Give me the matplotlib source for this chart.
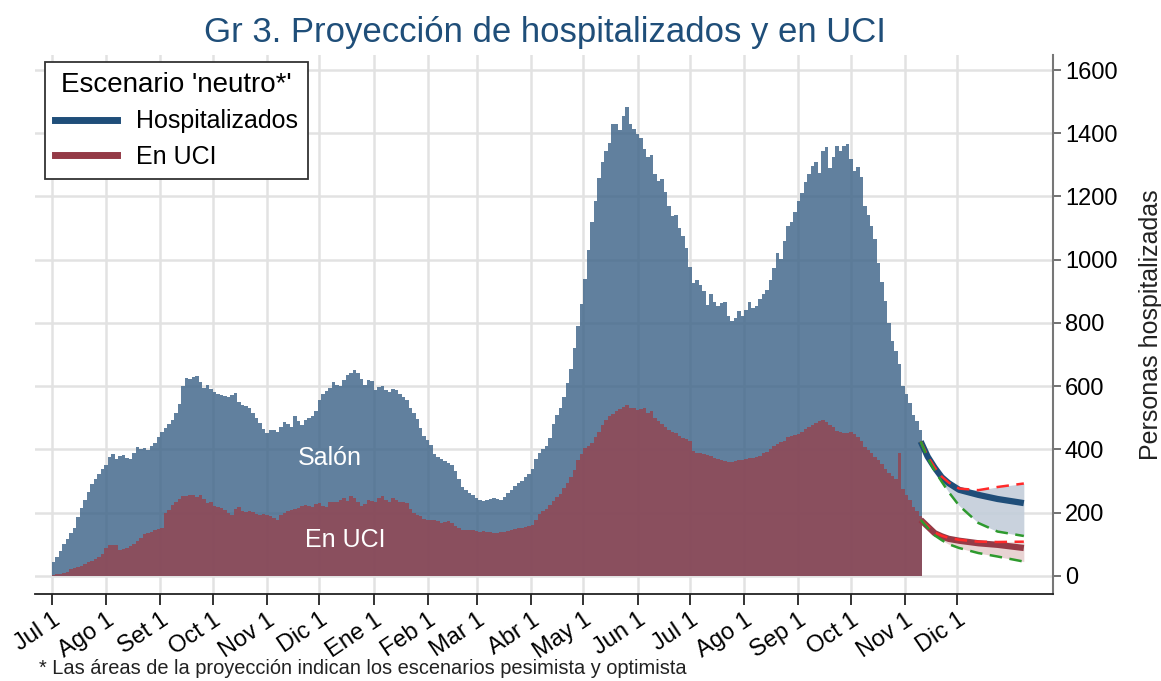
import numpy as np
import pandas as pd
import matplotlib
matplotlib.use('Agg')
import matplotlib.pyplot as plt
from matplotlib.lines import Line2D

plt.rcParams['font.family'] = ['Liberation Sans', 'DejaVu Sans']

# ---------------- data ----------------
start = pd.Timestamp('2020-07-01')
step_days = 2  # one value every two days, starting Jul 1 2020

hosp = [45, 60, 78, 100, 118, 135, 150, 185, 215, 240,
        265, 290, 305, 322, 338, 352, 375, 385, 368, 378,
        383, 372, 368, 390, 408, 400, 404, 398, 410, 420,
        440, 456, 468, 480, 493, 515, 545, 600, 625, 622,
        630, 632, 614, 595, 604, 592, 583, 575, 572, 568,
        567, 572, 578, 550, 541, 538, 530, 515, 500, 482,
        465, 451, 460, 462, 456, 470, 488, 480, 472, 505,
        490, 477, 492, 500, 506, 520, 555, 575, 585, 595,
        612, 605, 600, 618, 636, 640, 651, 640, 622, 605,
        620, 615, 588, 598, 602, 588, 583, 590, 588, 575,
        565, 557, 530, 515, 495, 468, 442, 430, 414, 385,
        375, 368, 362, 358, 352, 330, 305, 280, 270, 262,
        255, 245, 240, 238, 240, 242, 246, 244, 240, 250,
        262, 270, 285, 294, 300, 312, 322, 338, 370, 388,
        400, 412, 435, 480, 510, 532, 565, 610, 655, 720,
        790, 860, 940, 1030, 1120, 1185, 1260, 1310, 1345, 1368,
        1430, 1428, 1410, 1455, 1484, 1430, 1415, 1398, 1385, 1350,
        1325, 1331, 1270, 1250, 1255, 1215, 1170, 1138, 1142, 1100,
        1075, 1036, 978, 925, 936, 920, 900, 858, 890, 865,
        852, 862, 865, 822, 805, 815, 838, 822, 840, 865,
        848, 855, 875, 890, 904, 935, 975, 1020, 1002, 1060,
        1105, 1120, 1150, 1185, 1210, 1245, 1270, 1295, 1310, 1275,
        1345, 1358, 1290, 1326, 1360, 1345, 1360, 1365, 1320, 1280,
        1294, 1263, 1170, 1140, 1105, 1065, 990, 930, 870, 800,
        742, 710, 670, 600, 575, 548, 510, 490, 460]

uci = [3, 5, 7, 9, 12, 20, 25, 28, 31, 38,
       44, 48, 53, 58, 70, 88, 98, 96, 98, 82,
       85, 88, 95, 102, 110, 120, 132, 136, 140, 145,
       148, 152, 200, 208, 225, 232, 242, 251, 252, 255,
       256, 250, 256, 242, 230, 232, 222, 219, 214, 209,
       200, 193, 210, 219, 205, 203, 205, 203, 195, 193,
       195, 192, 188, 182, 177, 192, 198, 204, 209, 212,
       214, 220, 224, 220, 219, 228, 230, 220, 219, 233,
       235, 232, 240, 246, 238, 251, 245, 235, 222, 228,
       240, 238, 235, 245, 251, 240, 235, 246, 240, 235,
       232, 230, 210, 198, 192, 188, 180, 177, 178, 177,
       172, 167, 170, 172, 168, 156, 150, 145, 146, 145,
       145, 142, 140, 141, 140, 138, 136, 135, 138, 140,
       143, 145, 148, 150, 152, 155, 156, 162, 177, 195,
       205, 212, 225, 238, 250, 260, 278, 293, 312, 335,
       365, 385, 404, 412, 420, 440, 455, 478, 492, 505,
       512, 520, 528, 535, 541, 532, 530, 526, 528, 530,
       516, 520, 500, 490, 480, 470, 462, 456, 451, 442,
       435, 432, 425, 395, 390, 388, 386, 383, 378, 374,
       370, 365, 362, 361, 360, 362, 365, 367, 370, 372,
       374, 377, 380, 388, 393, 402, 410, 416, 422, 428,
       438, 442, 446, 450, 456, 465, 472, 478, 484, 490,
       494, 488, 478, 470, 458, 456, 453, 451, 456, 448,
       440, 425, 409, 398, 388, 375, 367, 355, 338, 325,
       315, 305, 390, 275, 255, 240, 219, 205, 188]

# projection (days after 2021-11-10)
proj_start = pd.Timestamp('2021-11-10')
proj_offsets = [0, 4, 8, 12, 16, 22, 33, 44, 59]
proj_hosp     = [425, 377, 342, 312, 293, 272, 256, 243, 230]
proj_hosp_pes = [425, 378, 343, 314, 295, 276, 271, 281, 292]
proj_hosp_opt = [425, 372, 333, 298, 265, 222, 167, 140, 126]
proj_uci      = [177, 156, 135, 125, 117, 111, 103, 98, 88]
proj_uci_pes  = [177, 157, 137, 127, 120, 114, 108, 107, 108]
proj_uci_opt  = [177, 152, 128, 113, 100, 88, 72, 61, 45]

month_ticks = pd.date_range('2020-07-01', '2021-12-01', freq='MS')
tick_labels = ['Jul 1', 'Ago 1', 'Set 1', 'Oct 1', 'Nov 1', 'Dic 1', 'Ene 1',
               'Feb 1', 'Mar 1', 'Abr 1', 'May 1', 'Jun 1', 'Jul 1', 'Ago 1',
               'Sep 1', 'Oct 1', 'Nov 1', 'Dic 1']
y_ticks = [0, 200, 400, 600, 800, 1000, 1200, 1400, 1600]

# ---------------- figure ----------------
dates = start + pd.to_timedelta(np.arange(len(hosp)) * step_days, unit='D')
pdates = proj_start + pd.to_timedelta(proj_offsets, unit='D')

fig = plt.figure(figsize=(11.61, 6.81), dpi=100)
ax = fig.add_axes([0.0301, 0.128, 0.8769, 0.791])
ax.set_axisbelow(True)
ax.grid(True, color='#e2e2e2', lw=1.8)

c_hosp_bar = '#3a6186'
c_uci_bar = '#95434f'
ax.bar(dates, hosp, width=2.0, align='edge', color=c_hosp_bar, alpha=0.8, lw=0)
ax.bar(dates, uci, width=2.0, align='edge', color=c_uci_bar, alpha=0.8, lw=0)

# projection areas
c_hosp = '#1f4e79'
c_uci = '#943a46'
ax.fill_between(pdates, proj_hosp_opt, proj_hosp_pes, color='#c3ceda', alpha=0.9, lw=0)
ax.fill_between(pdates, proj_uci_opt, proj_uci_pes, color='#e6cfcf', alpha=0.9, lw=0)
ax.plot(pdates, proj_hosp, color=c_hosp, lw=4.5, solid_capstyle='butt')
ax.plot(pdates, proj_uci, color=c_uci, lw=4.5, solid_capstyle='butt')
for pes, opt in [(proj_hosp_pes, proj_hosp_opt), (proj_uci_pes, proj_uci_opt)]:
    ax.plot(pdates, pes, color='#ff2a2a', lw=1.8, ls=(0, (5, 3)))
    ax.plot(pdates, opt, color='#2e9a2e', lw=1.8, ls=(0, (5, 3)))

# axes
ax.set_xlim(start - pd.Timedelta(days=9.7), start + pd.Timedelta(days=572.7))
ax.set_ylim(-57, 1647)
ax.set_xticks(month_ticks)
ax.set_xticklabels(tick_labels, rotation=34, ha='right', va='top',
                   rotation_mode='anchor', fontsize=17)
ax.yaxis.tick_right()
ax.set_yticks(y_ticks)
ax.set_yticklabels([str(v) for v in y_ticks], fontsize=17)
ax.tick_params(axis='x', direction='out', length=8, width=1.3, color='#222222', pad=3)
ax.tick_params(axis='y', direction='out', length=6, width=1.3, color='#666666', pad=2.5)
for s in ['top', 'left']:
    ax.spines[s].set_visible(False)
ax.spines['bottom'].set_color('#222222')
ax.spines['bottom'].set_linewidth(1.3)
ax.spines['right'].set_color('#777777')
ax.spines['right'].set_linewidth(1.5)

# labels inside
ax.text(start + pd.Timedelta(days=159), 373, 'Salón', color='white', fontsize=18,
        ha='center', va='center')
ax.text(start + pd.Timedelta(days=168), 114, 'En UCI', color='white', fontsize=18,
        ha='center', va='center')

# legend
handles = [Line2D([], [], color=c_hosp, lw=5), Line2D([], [], color=c_uci, lw=5)]
leg = ax.legend(handles, ['Hospitalizados', 'En UCI'], title="Escenario 'neutro*'",
                loc='upper left', bbox_to_anchor=(0.0098, 0.987), borderaxespad=0,
                fontsize=18, title_fontsize=20, handlelength=2.5, fancybox=False,
                framealpha=1, edgecolor='#333333', borderpad=0.4, labelspacing=0.45,
                handletextpad=0.75)
leg.get_frame().set_linewidth(1.3)

fig.text(0.469, 0.953, 'Gr 3. Proyección de hospitalizados y en UCI', ha='center',
         va='center', fontsize=25, color='#1f4e79')
fig.text(0.991, 0.523, 'Personas hospitalizadas', rotation=90, ha='center',
         va='center', fontsize=18, color='#222222')
fig.text(0.034, 0.019, '* Las áreas de la proyección indican los escenarios pesimista y optimista',
         ha='left', va='center', fontsize=14.4, color='#222222')

fig.savefig('out.png', dpi=100)
